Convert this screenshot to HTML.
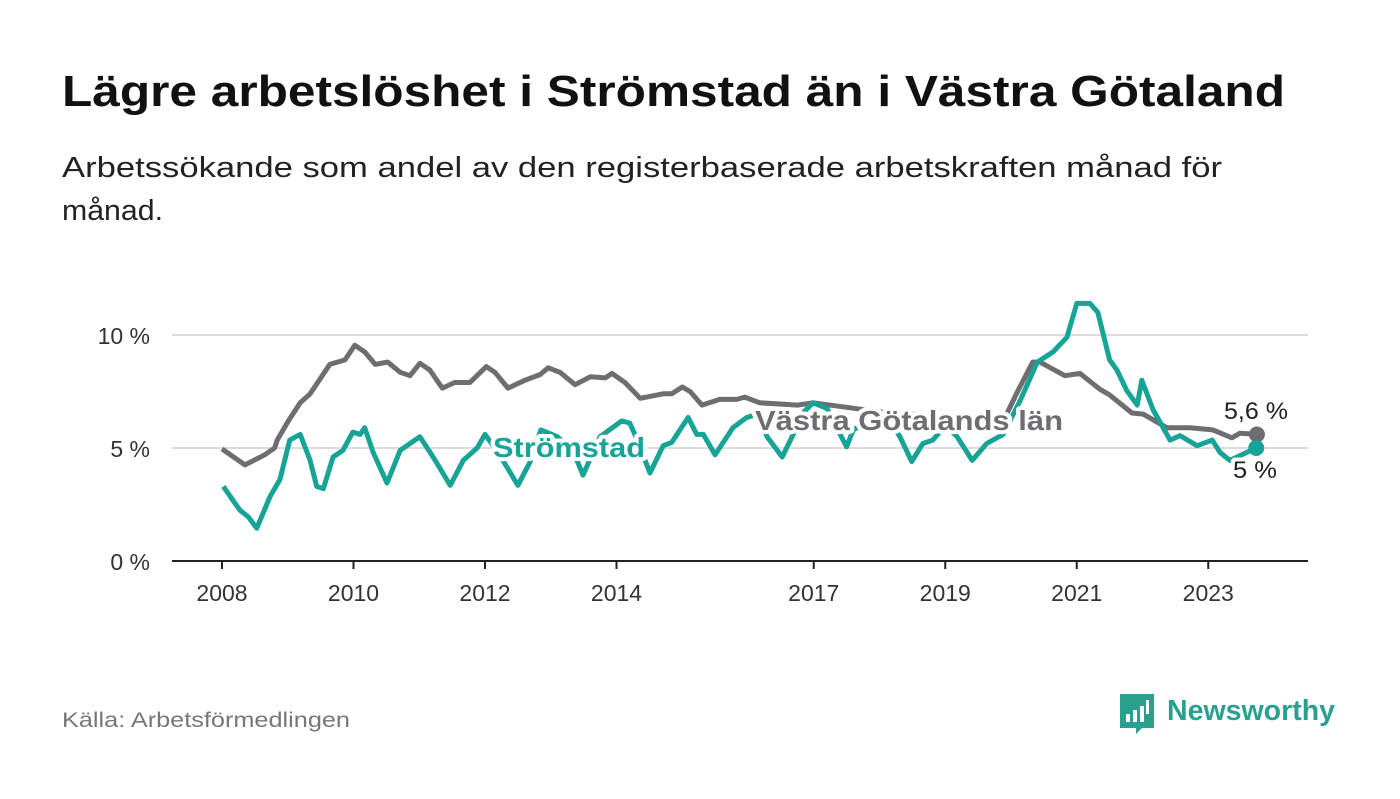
<!DOCTYPE html>
<html><head><meta charset="utf-8"><style>
body{margin:0;background:#fff;width:1400px;height:794px;overflow:hidden;font-family:"Liberation Sans",sans-serif}
</style></head><body>
<svg width="1400" height="794" xmlns="http://www.w3.org/2000/svg">
<text x="62" y="106" font-size="44" font-weight="bold" fill="#111" textLength="1223" lengthAdjust="spacingAndGlyphs">Lägre arbetslöshet i Strömstad än i Västra Götaland</text>
<text x="62" y="177" font-size="29" fill="#222" textLength="1160" lengthAdjust="spacingAndGlyphs">Arbetssökande som andel av den registerbaserade arbetskraften månad för</text>
<text x="62" y="220" font-size="29" fill="#222" textLength="101" lengthAdjust="spacingAndGlyphs">månad.</text>
<g id="grid"></g><g id="axis"></g><g id="lines"></g><g id="labels"></g>
<text x="62" y="727" font-size="21" fill="#777" textLength="288" lengthAdjust="spacingAndGlyphs">Källa: Arbetsförmedlingen</text>
<g>
<path d="M1120 694 h34 v34 h-12 l-6 6 v-6 h-16z" fill="#2aa08f"/>
<rect x="1126" y="714" width="4" height="8" fill="#fff"/><rect x="1133" y="710" width="4" height="12" fill="#fff"/><rect x="1140" y="706" width="4" height="16" fill="#fff"/><rect x="1146" y="700" width="3" height="14" fill="#fff"/>
<text x="1167" y="720" font-size="29" font-weight="bold" fill="#2aa08f" textLength="168" lengthAdjust="spacingAndGlyphs">Newsworthy</text>
</g>
</svg>
<script>
const yTicks=[0,5,10];
const yTickLabels=["0 %","5 %","10 %"];
const xTicks=[2008,2010,2012,2014,2017,2019,2021,2023];
const grayDates=[2008.0,2008.35,2008.65,2008.8,2008.84,2009.01,2009.19,2009.34,2009.64,2009.87,2010.02,2010.17,2010.33,2010.52,2010.71,2010.86,2011.01,2011.16,2011.35,2011.54,2011.77,2012.02,2012.15,2012.35,2012.61,2012.84,2012.96,2013.14,2013.37,2013.6,2013.83,2013.93,2014.13,2014.36,2014.71,2014.84,2015.0,2015.12,2015.3,2015.57,2015.83,2015.95,2016.18,2016.75,2016.99,2017.5,2018.0,2018.5,2019.0,2019.5,2019.9,2020.1,2020.33,2020.44,2020.82,2021.05,2021.35,2021.5,2021.84,2022.01,2022.37,2022.72,2023.07,2023.36,2023.48,2023.74];
const grayValues=[4.96,4.25,4.7,5.0,5.35,6.2,7.0,7.4,8.7,8.9,9.55,9.25,8.7,8.8,8.35,8.2,8.75,8.45,7.65,7.9,7.9,8.6,8.35,7.65,8.0,8.25,8.55,8.35,7.8,8.15,8.1,8.3,7.9,7.2,7.4,7.4,7.7,7.5,6.9,7.15,7.15,7.25,7.0,6.9,7.0,6.8,6.6,6.5,6.3,6.1,6.3,7.5,8.8,8.8,8.2,8.3,7.6,7.35,6.55,6.5,5.9,5.9,5.8,5.45,5.65,5.6];
const greenDates=[2008.02,2008.27,2008.4,2008.53,2008.73,2008.88,2009.03,2009.19,2009.34,2009.44,2009.54,2009.69,2009.84,2009.99,2010.1,2010.17,2010.3,2010.51,2010.71,2011.01,2011.21,2011.47,2011.67,2011.88,2012.0,2012.2,2012.5,2012.68,2012.85,2013.1,2013.35,2013.49,2013.75,2014.08,2014.2,2014.28,2014.51,2014.71,2014.84,2015.09,2015.22,2015.32,2015.5,2015.77,2015.98,2016.15,2016.29,2016.52,2016.67,2016.85,2016.99,2017.2,2017.5,2017.6,2017.9,2018.2,2018.31,2018.49,2018.66,2018.81,2019.0,2019.18,2019.41,2019.63,2019.88,2020.14,2020.4,2020.64,2020.85,2021.0,2021.2,2021.32,2021.5,2021.61,2021.76,2021.92,2021.99,2022.16,2022.42,2022.57,2022.83,2023.06,2023.18,2023.33,2023.73];
const greenValues=[3.3,2.25,1.95,1.45,2.85,3.6,5.35,5.6,4.45,3.3,3.2,4.6,4.9,5.7,5.6,5.9,4.8,3.45,4.9,5.5,4.6,3.35,4.45,5.0,5.6,4.8,3.35,4.35,5.8,5.5,4.8,3.8,5.5,6.2,6.1,5.6,3.9,5.1,5.25,6.35,5.6,5.6,4.7,5.9,6.35,6.5,5.5,4.6,5.5,6.6,7.0,6.75,5.05,5.8,6.3,6.0,5.5,4.4,5.2,5.35,6.0,5.5,4.45,5.2,5.6,7.1,8.8,9.25,9.9,11.4,11.4,11.0,8.9,8.45,7.55,6.9,8.0,6.7,5.35,5.55,5.1,5.35,4.8,4.45,5.0];
const NS="http://www.w3.org/2000/svg";
const xs=y=>222+(y-2008)*65.75;
const ys=v=>561-v*22.6;
function mk(tag,attrs,parent,text){const e=document.createElementNS(NS,tag);for(const k in attrs)e.setAttribute(k,attrs[k]);if(text!==undefined)e.textContent=text;document.getElementById(parent).appendChild(e);return e;}
yTicks.forEach((t,i)=>{
  if(t>0){const g=mk('line',{x1:172,x2:1308,y1:ys(t),y2:ys(t),stroke:'#dcdcdc','stroke-width':2},'grid');
  
  }
  const l=mk('text',{x:150,y:ys(t)+9,'text-anchor':'end','font-size':23,fill:'#333'},'axis',yTickLabels[i]);
  
  
});
const base=mk('line',{x1:172,x2:1308,y1:561,y2:561,stroke:'#222','stroke-width':2},'axis');


xTicks.forEach(t=>{
  const tk=mk('line',{x1:xs(t),x2:xs(t),y1:561,y2:569,stroke:'#222','stroke-width':2},'axis');
  
  
  const l=mk('text',{x:xs(t),y:601,'text-anchor':'middle','font-size':23,fill:'#333'},'axis',String(t));
  
  
});
function path(d,v){return d.map((x,i)=>(i?'L':'M')+xs(x).toFixed(1)+' '+ys(v[i]).toFixed(1)).join(' ');}
const gp=mk('path',{d:path(grayDates,grayValues),fill:'none',stroke:'#6e6d72','stroke-width':5,'stroke-linejoin':'round'},'lines');


const tp=mk('path',{d:path(greenDates,greenValues),fill:'none',stroke:'#17a396','stroke-width':5,'stroke-linejoin':'round'},'lines');


const gl=grayDates.length-1, tl=greenDates.length-1;
const gd=mk('circle',{cx:xs(grayDates[gl]),cy:ys(grayValues[gl]),r:8,fill:'#6e6d72'},'lines');


const td=mk('circle',{cx:xs(greenDates[tl]),cy:ys(greenValues[tl]),r:8,fill:'#17a396'},'lines');


const halo={stroke:'#fff','stroke-width':8,'paint-order':'stroke','stroke-linejoin':'round'};
function lab(x,y,txt,size,weight,fill,name,len){const a=Object.assign({x:x,y:y,'font-size':size,'font-weight':weight,fill:fill},halo);if(len){a.textLength=len;a.lengthAdjust='spacingAndGlyphs';}const e=mk('text',a,'labels',txt);

}
lab(493,457,'Strömstad',28,'bold','#17a396','stromstad-label',152);
lab(755,430,'Västra Götalands län',28,'bold','#6e6d72','vastra-gotaland-label',308);
lab(1224,419,'5,6 %',24,'normal','#222','vastra-gotaland-end-value',64);
lab(1233,478,'5 %',24,'normal','#222','stromstad-end-value',44);
</script>
</body></html>
